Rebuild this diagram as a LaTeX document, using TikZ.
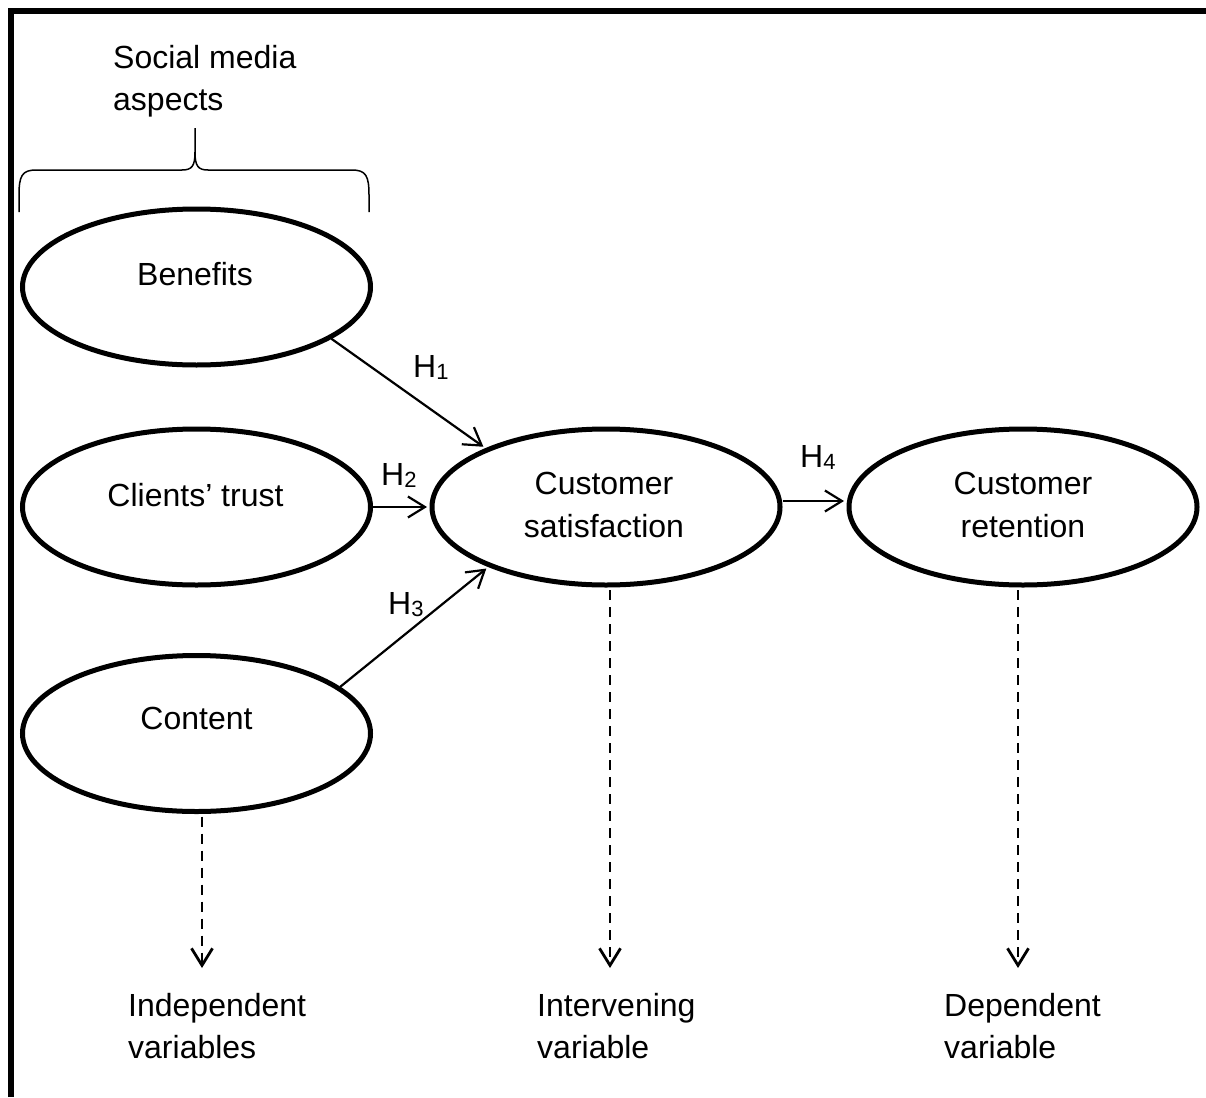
\documentclass[tikz,border=0pt]{standalone}
\usepackage{fontspec}
\setmainfont{Liberation Sans}
\usetikzlibrary{shapes.geometric,arrows.meta}
\newcommand\hsub[1]{H\raisebox{-2pt}{\fontsize{22}{22}\selectfont #1}}
\begin{document}
\begin{tikzpicture}[x=1pt,y=-1pt,
  every node/.style={inner sep=0pt, font=\fontsize{32}{42.5}\selectfont},
  var/.style={ellipse, draw, line width=5pt, minimum width=348pt, minimum height=156pt},
  txt/.style={anchor=north, align=center},
  lbl/.style={anchor=north west, align=left},
  hyp/.style={-{Straight Barb[length=17pt,width=21pt]}, line width=2.2pt, shorten >=2.5pt},
  dsh/.style={-{Straight Barb[length=17pt,width=21pt]}, line width=2.8pt, dash pattern=on 10pt off 7pt, shorten <=2.5pt},
]
\useasboundingbox (0,0) rectangle (1206,1097);
% frame
\draw[line width=6pt, line join=miter] (11,1097) -- (11,11) -- (1206,11);

% ellipses
\node[var] (ben) at (196.5,287) {};
\node[var] (cl) at (196.5,507) {};
\node[var] (co) at (196.5,733.5) {};
\node[var] (cs) at (606,507) {};
\node[var] (cr) at (1023,507) {};

% texts inside
\node[txt] (benT) at (195,262) {Benefits};
\node[txt] (clT) at (195.5,483) {Clients’ trust};
\node[txt] (coT) at (196.5,707) {Content};
\node[txt] (csT) at (604,472) {Customer\\satisfaction};
\node[txt] (crT) at (1023,472) {Customer\\retention};

% other labels
\node[lbl] (sma) at (113,45) {Social media\\aspects};
\node[lbl] (iv) at (128,993) {Independent\\variables};
\node[lbl] (inv) at (537,993) {Intervening\\variable};
\node[lbl] (dv) at (944,993) {Dependent\\variable};

\node[lbl] (h1) at (413,355) {\hsub{1}};
\node[lbl] (h2) at (381,463) {\hsub{2}};
\node[lbl] (h3) at (388,592) {\hsub{3}};
\node[lbl] (h4) at (800,445) {\hsub{4}};

% brace
\draw[line width=1.5pt] (19,212) -- (19,195) .. controls (19,176) and (22,170) .. (36,170)
  -- (182,170) .. controls (192,170) and (195,166) .. (195,152) -- (195,128);
\draw[line width=1.5pt] (369,212) -- (369,195) .. controls (369,176) and (366,170) .. (352,170)
  -- (208,170) .. controls (198,170) and (195,166) .. (195,152);

% hypotheses
\draw[hyp] (ben.-21) -- (cs.154);
\draw[hyp] (cl.east) -- (cs.west);
\draw[hyp] (co.18) -- (cs.207);
\draw[hyp] ([yshift=6pt]cs.east) -- ([yshift=6pt]cr.west);

% dashed
\coordinate (d1) at (202,968);
\coordinate (d2) at (610,968);
\coordinate (d3) at (1018,968);
\draw[dsh] (co.south -| d1) -- (d1);
\draw[dsh] (cs.south -| d2) -- (d2);
\draw[dsh] (cr.south -| d3) -- (d3);
\end{tikzpicture}
\end{document}
